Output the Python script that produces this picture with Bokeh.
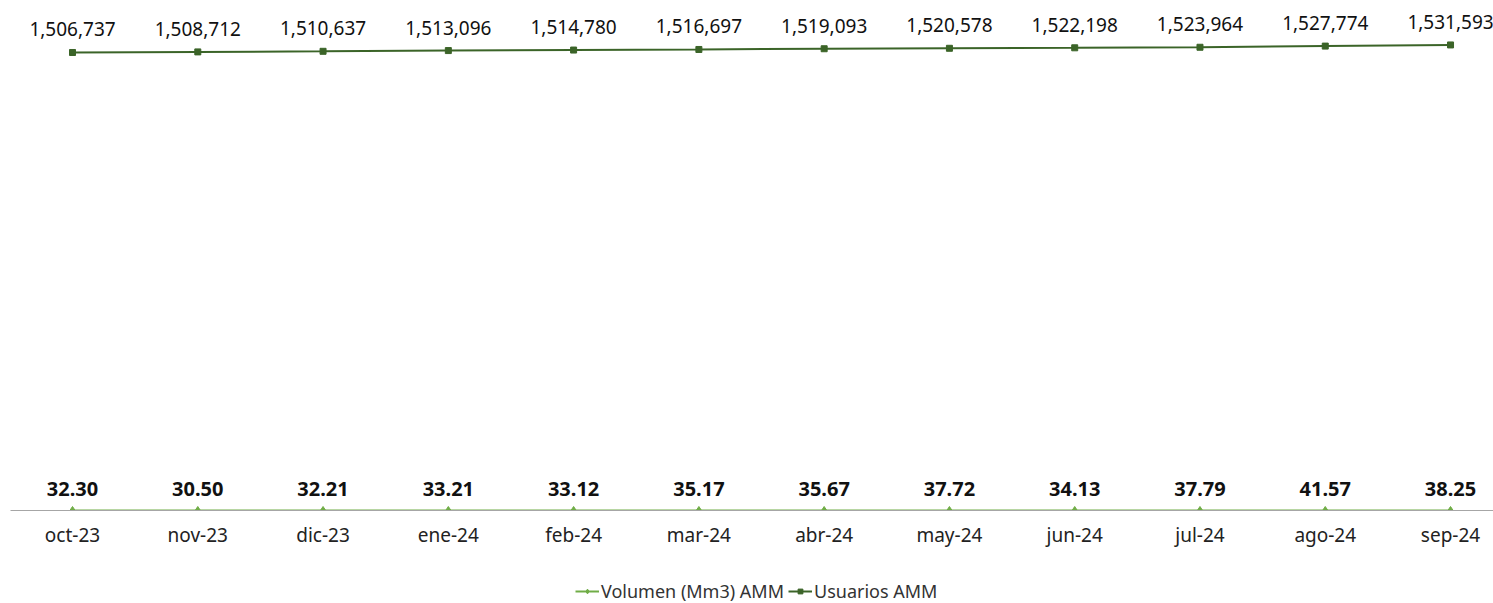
from bokeh.plotting import figure
from bokeh.layouts import column
from bokeh.models import Range1d, FixedTicker, ColumnDataSource, Legend, LegendItem, LabelSet
from bokeh.core.properties import value
from bokeh.embed import file_html
from bokeh.resources import INLINE

months = ["oct-23", "nov-23", "dic-23", "ene-24", "feb-24", "mar-24",
          "abr-24", "may-24", "jun-24", "jul-24", "ago-24", "sep-24"]
volumen = [32.30, 30.50, 32.21, 33.21, 33.12, 35.17, 35.67, 37.72, 34.13, 37.79, 41.57, 38.25]
usuarios = [1506737, 1508712, 1510637, 1513096, 1514780, 1516697,
            1519093, 1520578, 1522198, 1523964, 1527774, 1531593]
series_names = ["Volumen (Mm3) AMM", "Usuarios AMM"]

xs = list(range(len(months)))
src = ColumnDataSource(dict(
    x=xs, vol=volumen, usr=usuarios,
    vol_lbl=[f"{v:.2f}" for v in volumen],
    usr_lbl=[f"{u:,}" for u in usuarios],
))

FONT = "Noto Sans"
C_VOL = "#70AD47"
C_USR = "#3B6428"

p = figure(width=1493, height=578, output_backend="svg", toolbar_location=None,
           x_range=Range1d(-0.495, 11.343), y_range=Range1d(0, 1677800),
           min_border_left=10, min_border_right=0, min_border_top=0, min_border_bottom=68)
p.outline_line_color = None
p.grid.visible = False
p.yaxis.visible = False

ax = p.xaxis[0]
ax.ticker = FixedTicker(ticks=xs)
ax.major_label_overrides = {i: m for i, m in enumerate(months)}
ax.major_tick_line_color = None
ax.minor_tick_line_color = None
ax.axis_line_color = "#A6A6A6"
ax.axis_line_width = 1
ax.major_label_text_font = FONT
ax.major_label_text_font_size = "19px"
ax.major_label_text_color = "#222222"
ax.major_label_standoff = 5

p.line("x", "vol", source=src, line_color=C_VOL, line_width=2)
p.scatter("x", "vol", source=src, marker="diamond", size=8, fill_color=C_VOL, line_color=C_VOL)
p.line("x", "usr", source=src, line_color=C_USR, line_width=2)
p.scatter("x", "usr", source=src, marker="square", size=6, fill_color=C_USR, line_color=C_USR)

p.add_layout(LabelSet(x="x", y="vol", text="vol_lbl", source=src, y_offset=14,
                      text_align="center", text_baseline="bottom",
                      text_font=value(FONT), text_font_size=value("20px"), text_font_style="bold",
                      text_color="#111111"))
p.add_layout(LabelSet(x="x", y="usr", text="usr_lbl", source=src, y_offset=16,
                      text_align="center", text_baseline="bottom",
                      text_font=value(FONT), text_font_size=value("19px"),
                      text_color="#111111"))

# legend strip (separate small figure under the chart)
q = figure(width=1493, height=25, output_backend="svg", toolbar_location=None,
           x_range=Range1d(0, 1), y_range=Range1d(0, 1),
           min_border_left=0, min_border_right=0, min_border_top=0, min_border_bottom=0)
q.outline_line_color = None
q.grid.visible = False
q.axis.visible = False
dummy = ColumnDataSource(dict(x=[-10, -9], y=[-10, -10]))
lv = q.line("x", "y", source=dummy, line_color=C_VOL, line_width=2)
mv = q.scatter("x", "y", source=dummy, marker="diamond", size=7, fill_color=C_VOL, line_color=C_VOL)
lu = q.line("x", "y", source=dummy, line_color=C_USR, line_width=2)
mu = q.scatter("x", "y", source=dummy, marker="square", size=6, fill_color=C_USR, line_color=C_USR)
legend = Legend(items=[LegendItem(label=series_names[0], renderers=[lv, mv]),
                       LegendItem(label=series_names[1], renderers=[lu, mu])],
                orientation="horizontal", location=(565, 0),
                label_text_font=FONT, label_text_font_size="18px", label_text_color="#333333",
                glyph_width=24, glyph_height=12, spacing=4, padding=0, margin=0,
                label_standoff=2, border_line_color=None, background_fill_alpha=0)
q.add_layout(legend)

layout = column(p, q, spacing=0)
open("out.html", "w").write(file_html(layout, INLINE))
